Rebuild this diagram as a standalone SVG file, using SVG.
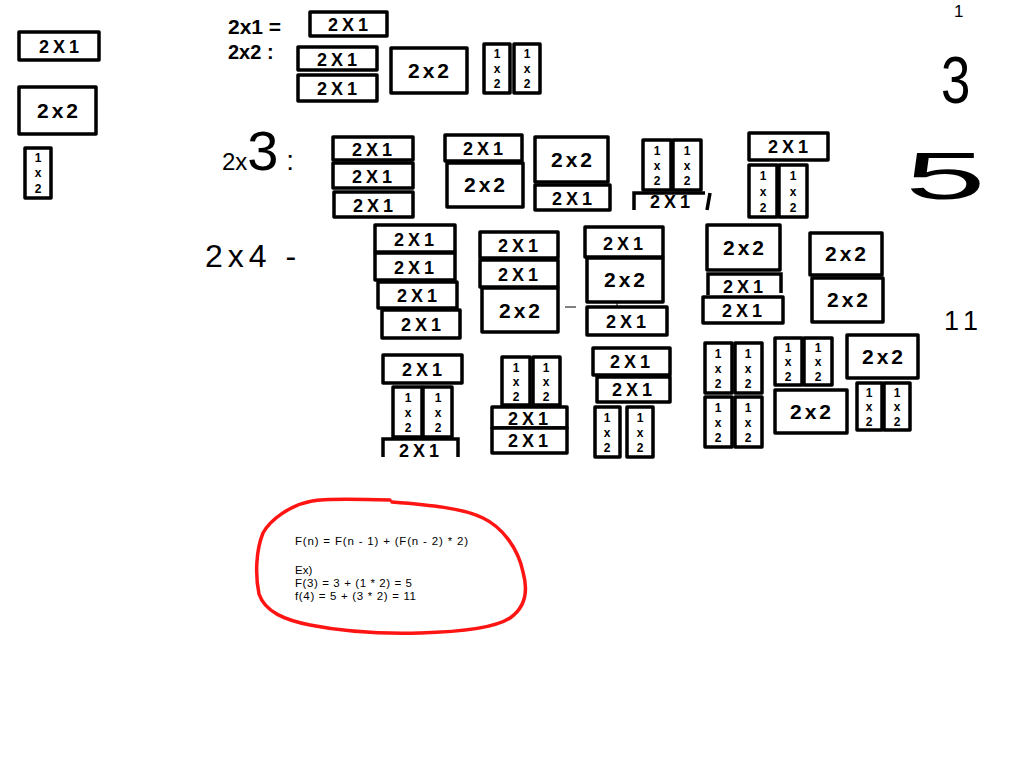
<svg xmlns="http://www.w3.org/2000/svg" width="1028" height="771" viewBox="0 0 1028 771">
<style>
.t{fill:#fff;stroke:#000;stroke-width:3.5;stroke-linejoin:round}
.o{fill:none;stroke:#000;stroke-width:3.5}
.a{font-family:"Liberation Sans",Arial,sans-serif;font-weight:bold;font-size:18px;letter-spacing:4px;text-anchor:middle;fill:#000}
.b{font-family:"Liberation Sans",Arial,sans-serif;font-weight:bold;font-size:21px;letter-spacing:3px;text-anchor:middle;fill:#000}
.v{font-family:"Liberation Sans",Arial,sans-serif;font-weight:bold;font-size:12px;text-anchor:middle;fill:#000}
.h{font-family:"Liberation Sans",Arial,sans-serif;font-weight:bold;fill:#000}
.n{font-family:"Liberation Sans",Arial,sans-serif;fill:#000}
.f{font-family:"Liberation Sans",Arial,sans-serif;font-size:11.5px;fill:#000}
</style>
<rect width="1028" height="771" fill="#fff"/>

<!-- legend -->
<g id="L1"><rect class="t" x="19" y="32" width="80" height="28"/><text class="a" x="61" y="53">2X1</text></g>
<g id="L2"><rect class="t" x="19" y="87" width="77" height="47"/><text class="b" x="59" y="118">2x2</text></g>
<g id="L3"><rect class="t" x="25" y="148" width="26" height="50"/><text class="v" x="38" y="162">1</text><text class="v" x="38" y="177">x</text><text class="v" x="38" y="193">2</text></g>

<!-- labels -->
<g id="lab1"><text class="h" x="228" y="34" font-size="21">2x1 =</text></g>
<g id="lab2"><text class="h" x="228" y="59" font-size="20">2x2 :</text></g>
<g id="lab3"><text class="n" x="222" y="170"><tspan font-size="24">2x</tspan><tspan font-size="56">3</tspan><tspan font-size="28"> :</tspan></text></g>
<g id="lab4"><text class="n" x="205" y="267" font-size="32" letter-spacing="5">2x4 -</text></g>

<!-- right numbers -->
<g id="r1"><text class="n" x="954" y="17" font-size="17">1</text></g>
<g id="r3"><text class="n" font-size="66" transform="translate(941,103) scale(0.8,1)">3</text></g>
<g id="r5"><text class="n" font-size="66" transform="translate(905,199) scale(2.2,1)">5</text></g>
<g id="r11"><text class="n" x="944" y="330" font-size="27" letter-spacing="6">11</text></g>

<!-- 2x1 row -->
<g id="A1"><rect class="t" x="310" y="12" width="77" height="24"/><text class="a" x="350" y="31">2X1</text></g>
<g id="A2a"><rect class="t" x="298" y="47" width="79" height="23"/><text class="a" x="339" y="66">2X1</text></g>
<g id="A2b"><rect class="t" x="298" y="75" width="79" height="26"/><text class="a" x="339" y="95">2X1</text></g>
<g id="A3"><rect class="t" x="391" y="48" width="76" height="45"/><text class="b" x="430" y="78">2x2</text></g>
<g id="A4a"><rect class="t" x="484" y="44" width="26" height="49"/><text class="v" x="497" y="58">1</text><text class="v" x="497" y="73">x</text><text class="v" x="497" y="88">2</text></g>
<g id="A4b"><rect class="t" x="514" y="44" width="26" height="49"/><text class="v" x="527" y="58">1</text><text class="v" x="527" y="73">x</text><text class="v" x="527" y="88">2</text></g>

<!-- 2x3 row -->
<g id="B1a"><rect class="t" x="333" y="137" width="80" height="23"/><text class="a" x="374" y="156">2X1</text></g>
<g id="B1b"><rect class="t" x="333" y="163" width="80" height="25"/><text class="a" x="374" y="183">2X1</text></g>
<g id="B1c"><rect class="t" x="334" y="192" width="79" height="25"/><text class="a" x="375" y="212">2X1</text></g>
<g id="B2a"><rect class="t" x="445" y="135" width="77" height="26"/><text class="a" x="485" y="155">2X1</text></g>
<g id="B2b"><rect class="t" x="447" y="163" width="76" height="44"/><text class="b" x="486" y="192">2x2</text></g>
<g id="B3a"><rect class="t" x="535" y="137" width="73" height="45"/><text class="b" x="573" y="167">2x2</text></g>
<g id="B3b"><rect class="t" x="535" y="185" width="75" height="25"/><text class="a" x="574" y="205">2X1</text></g>
<g id="B4a"><rect class="t" x="643" y="140" width="28" height="50"/><text class="v" x="657" y="155">1</text><text class="v" x="657" y="170">x</text><text class="v" x="657" y="185">2</text></g>
<g id="B4b"><rect class="t" x="673" y="140" width="28" height="50"/><text class="v" x="687" y="155">1</text><text class="v" x="687" y="170">x</text><text class="v" x="687" y="185">2</text></g>
<g id="B4c"><path class="o" d="M634,210 V193 H705 M710,193 L707,210"/><text class="a" x="672" y="208">2X1</text></g>
<g id="B5a"><rect class="t" x="749" y="133" width="79" height="27"/><text class="a" x="790" y="153">2X1</text></g>
<g id="B5b"><rect class="t" x="749" y="165" width="28" height="52"/><text class="v" x="763" y="180">1</text><text class="v" x="763" y="196">x</text><text class="v" x="763" y="212">2</text></g>
<g id="B5c"><rect class="t" x="779" y="165" width="28" height="52"/><text class="v" x="793" y="180">1</text><text class="v" x="793" y="196">x</text><text class="v" x="793" y="212">2</text></g>

<!-- 2x4 top row -->
<g id="C1a"><rect class="t" x="375" y="225" width="80" height="27"/><text class="a" x="416" y="246">2X1</text></g>
<g id="C1b"><rect class="t" x="375" y="253" width="80" height="27"/><text class="a" x="416" y="274">2X1</text></g>
<g id="C1c"><rect class="t" x="378" y="282" width="79" height="26"/><text class="a" x="419" y="302">2X1</text></g>
<g id="C1d"><rect class="t" x="382" y="310" width="78" height="28"/><text class="a" x="423" y="331">2X1</text></g>
<g id="C2a"><rect class="t" x="480" y="232" width="78" height="26"/><text class="a" x="520" y="252">2X1</text></g>
<g id="C2b"><rect class="t" x="480" y="260" width="78" height="27"/><text class="a" x="520" y="281">2X1</text></g>
<g id="C2c"><rect class="t" x="482" y="288" width="76" height="44"/><text class="b" x="521" y="318">2x2</text></g>
<g id="C3a"><rect class="t" x="585" y="227" width="78" height="30"/><text class="a" x="625" y="250">2X1</text></g>
<g id="C3b"><rect class="t" x="587" y="258" width="76" height="44"/><text class="b" x="626" y="287">2x2</text></g>
<g id="C3c"><rect class="t" x="587" y="307" width="80" height="28"/><text class="a" x="628" y="328">2X1</text></g>
<g id="C4a"><rect class="t" x="707" y="225" width="73" height="45"/><text class="b" x="745" y="255">2x2</text></g>
<g id="C4b"><path class="o" d="M708,295 V274 H781 V293"/><text class="a" x="745" y="293">2X1</text></g>
<g id="C4c"><rect class="t" x="703" y="297" width="80" height="26"/><text class="a" x="744" y="317">2X1</text></g>
<g id="C5a"><rect class="t" x="810" y="233" width="72" height="42"/><text class="b" x="847" y="261">2x2</text></g>
<g id="C5b"><rect class="t" x="812" y="278" width="71" height="44"/><text class="b" x="849" y="307">2x2</text></g>

<!-- 2x4 bottom row -->
<g id="D1a"><rect class="t" x="383" y="355" width="79" height="28"/><text class="a" x="424" y="376">2X1</text></g>
<g id="D1b"><rect class="t" x="393" y="387" width="29" height="50"/><text class="v" x="408" y="402">1</text><text class="v" x="408" y="417">x</text><text class="v" x="408" y="432">2</text></g>
<g id="D1c"><rect class="t" x="423" y="387" width="29" height="50"/><text class="v" x="438" y="402">1</text><text class="v" x="438" y="417">x</text><text class="v" x="438" y="432">2</text></g>
<g id="D1d"><path class="o" d="M383,457 V439 H458 V457"/><text class="a" x="421" y="457">2X1</text></g>
<g id="D2a"><rect class="t" x="502" y="357" width="28" height="48"/><text class="v" x="516" y="372">1</text><text class="v" x="516" y="386">x</text><text class="v" x="516" y="401">2</text></g>
<g id="D2b"><rect class="t" x="533" y="357" width="27" height="48"/><text class="v" x="546" y="372">1</text><text class="v" x="546" y="386">x</text><text class="v" x="546" y="401">2</text></g>
<g id="D2c"><rect class="t" x="492" y="407" width="75" height="21"/><text class="a" x="530" y="425">2X1</text></g>
<g id="D2d"><rect class="t" x="492" y="428" width="75" height="25"/><text class="a" x="530" y="447">2X1</text></g>
<g id="D3a"><rect class="t" x="593" y="348" width="77" height="27"/><text class="a" x="632" y="368">2X1</text></g>
<g id="D3b"><rect class="t" x="597" y="377" width="73" height="25"/><text class="a" x="634" y="396">2X1</text></g>
<g id="D3c"><rect class="t" x="595" y="407" width="25" height="50"/><text class="v" x="607" y="422">1</text><text class="v" x="607" y="437">x</text><text class="v" x="607" y="452">2</text></g>
<g id="D3d"><rect class="t" x="627" y="407" width="26" height="50"/><text class="v" x="640" y="422">1</text><text class="v" x="640" y="437">x</text><text class="v" x="640" y="452">2</text></g>
<g id="D4a"><rect class="t" x="705" y="343" width="27" height="50"/><text class="v" x="718" y="358">1</text><text class="v" x="718" y="373">x</text><text class="v" x="718" y="388">2</text></g>
<g id="D4b"><rect class="t" x="735" y="343" width="27" height="50"/><text class="v" x="748" y="358">1</text><text class="v" x="748" y="373">x</text><text class="v" x="748" y="388">2</text></g>
<g id="D4c"><rect class="t" x="705" y="397" width="27" height="50"/><text class="v" x="718" y="412">1</text><text class="v" x="718" y="427">x</text><text class="v" x="718" y="442">2</text></g>
<g id="D4d"><rect class="t" x="735" y="397" width="27" height="50"/><text class="v" x="748" y="412">1</text><text class="v" x="748" y="427">x</text><text class="v" x="748" y="442">2</text></g>
<g id="D5a"><rect class="t" x="775" y="338" width="27" height="47"/><text class="v" x="788" y="352">1</text><text class="v" x="788" y="366">x</text><text class="v" x="788" y="381">2</text></g>
<g id="D5b"><rect class="t" x="804" y="338" width="28" height="47"/><text class="v" x="818" y="352">1</text><text class="v" x="818" y="366">x</text><text class="v" x="818" y="381">2</text></g>
<g id="D5c"><rect class="t" x="775" y="390" width="72" height="43"/><text class="b" x="812" y="419">2x2</text></g>
<g id="D6a"><rect class="t" x="847" y="335" width="71" height="43"/><text class="b" x="884" y="364">2x2</text></g>
<g id="D6b"><rect class="t" x="857" y="383" width="25" height="47"/><text class="v" x="869" y="397">1</text><text class="v" x="869" y="411">x</text><text class="v" x="869" y="426">2</text></g>
<g id="D6c"><rect class="t" x="884" y="383" width="26" height="47"/><text class="v" x="897" y="397">1</text><text class="v" x="897" y="411">x</text><text class="v" x="897" y="426">2</text></g>

<!-- small marks -->
<g id="connectors">
<line x1="565" y1="307" x2="576" y2="307" stroke="#000" stroke-width="1"/>
<line x1="617" y1="302" x2="617" y2="307" stroke="#000" stroke-width="1"/>
</g>

<!-- formula -->
<g id="formula">
<path d="M390,500 C360,499 325,498 312,501 C290,505 270,520 263,533 C256,550 255,575 259,594 C265,612 285,620 310,625 C340,631 380,634 420,633 C460,632 495,628 510,618 C526,607 528,590 523,572 C518,548 502,527 483,518 C462,508 430,505 392,502" fill="none" stroke="#ff1414" stroke-width="3.5" stroke-linecap="round"/>
<text class="f" x="295" y="545" textLength="173" lengthAdjust="spacing">F(n) = F(n - 1) + (F(n - 2) * 2)</text>
<text class="f" x="295" y="574">Ex)</text>
<text class="f" x="295" y="587" textLength="117" lengthAdjust="spacing">F(3) = 3 + (1 * 2) = 5</text>
<text class="f" x="295" y="600" textLength="121" lengthAdjust="spacing">f(4) = 5 + (3 * 2) = 11</text>
</g>
</svg>
